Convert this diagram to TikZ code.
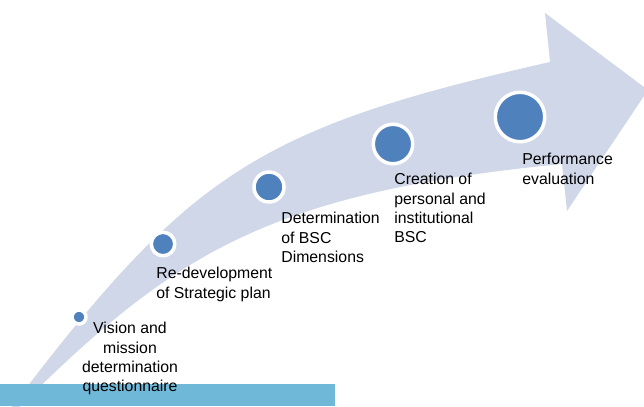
\documentclass[tikz,border=0pt]{standalone}
\usepackage{fontspec}
\setmainfont{Liberation Sans}

\definecolor{arrowfill}{RGB}{208,215,232}
\definecolor{dotblue}{RGB}{79,129,189}
\definecolor{barblue}{RGB}{112,184,216}

\begin{document}
\begin{tikzpicture}[x = 0.02cm, y = -0.02cm, stage/.style = {circle, draw = white, fill = dotblue, line width = 2pt, inner sep = 0pt}, stagetext/.style = {inner sep = 0pt, align = left, anchor = north west, font = \fontsize{9}{11}\selectfont}]
	\useasboundingbox (0, 0) rectangle (644, 406);

	\fill[arrowfill] (8, 412) .. controls (189, 172) and (258, 128) .. (550, 62) -- (545, 13) -- (648, 90) -- (567, 211) -- (562, 164) .. controls (263, 193) and (170, 257) .. (14, 412) -- cycle;
	\fill[barblue] (0, 384) rectangle (335, 406);

	\node[stage, minimum size = 0.28cm] (vision) at (79, 317){};
	\node[stage, minimum size = 0.47cm] (plan) at (163, 244){};
	\node[stage, minimum size = 0.6cm] (dims) at (269, 187){};
	\node[stage, minimum size = 0.79cm] (bsc) at (393, 144){};
	\node[stage, minimum size = 0.99cm] (perf) at (520, 117){};

	\node[stagetext, align = center, anchor = north] (visiontext) at (130, 322){Vision and\\mission\\determination\\questionnaire};
	\node[stagetext] (plantext) at (156, 267){Re-development\\of Strategic plan};
	\node[stagetext] (dimstext) at (281, 212){Determination\\of BSC\\Dimensions};
	\node[stagetext] (bsctext) at (394, 173){Creation of\\personal and\\institutional\\BSC};
	\node[stagetext] (perftext) at (522, 153){Performance\\evaluation};
\end{tikzpicture}
\end{document}
